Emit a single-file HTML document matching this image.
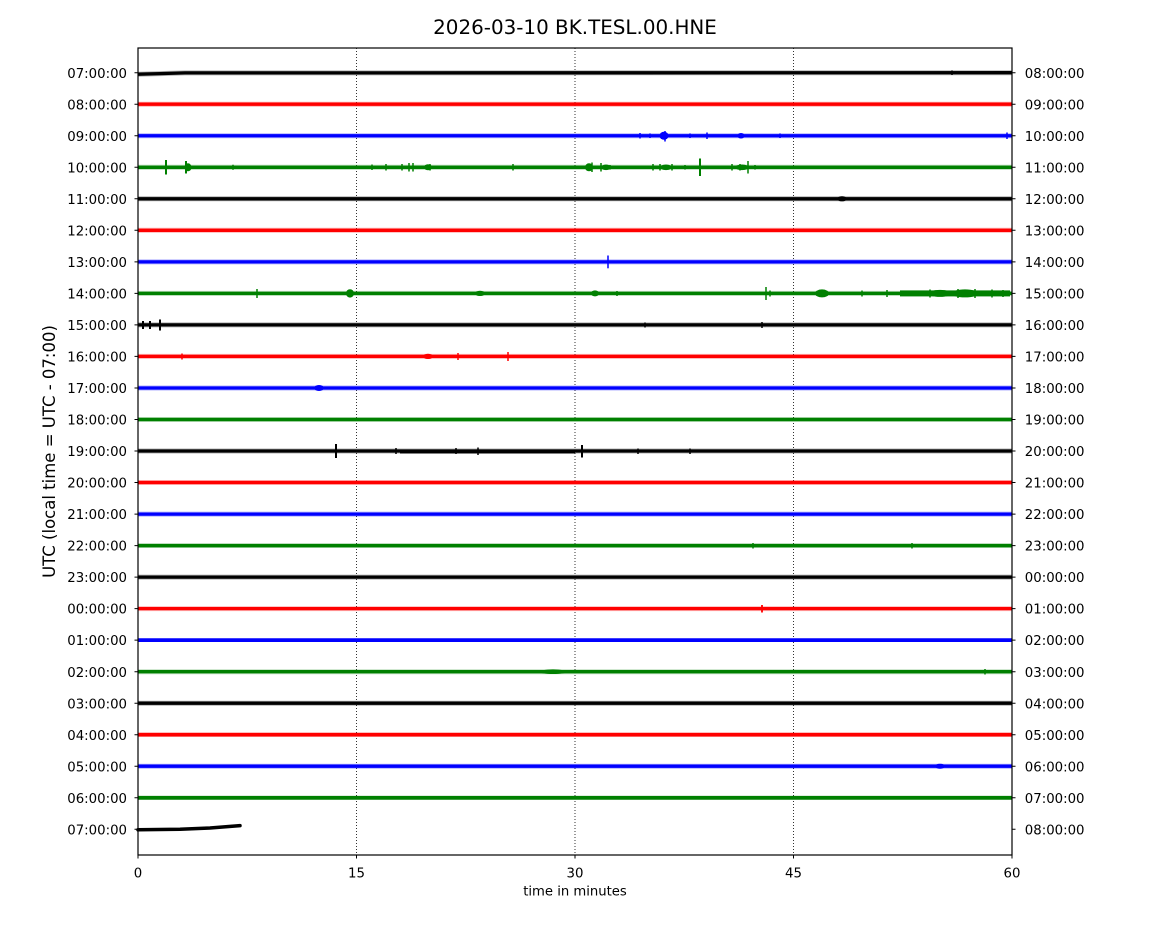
<!DOCTYPE html>
<html>
<head>
<meta charset="utf-8">
<style>
html,body{margin:0;padding:0;background:#fff;}
svg{display:block;}
text{font-family:"DejaVu Sans","Liberation Sans",sans-serif;fill:#000;}
</style>
</head>
<body>
<svg width="1150" height="950" viewBox="0 0 1150 950" xmlns="http://www.w3.org/2000/svg">
<rect width="1150" height="950" fill="#fff"/>
<!-- title -->
<text x="575" y="34" font-size="19.9" text-anchor="middle">2026-03-10 BK.TESL.00.HNE</text>

<!-- grid -->
<g stroke="#000" stroke-width="0.8" stroke-dasharray="1,2">
<line x1="356.5" y1="48" x2="356.5" y2="855"/>
<line x1="575" y1="48" x2="575" y2="855"/>
<line x1="793.5" y1="48" x2="793.5" y2="855"/>
</g>

<!-- traces -->
<g stroke-linecap="butt" fill="none">
<!-- row 0 black -->
<g stroke="#000">
<path d="M138 74.2 L160 73.6 L185 72.9 L1012 72.7" stroke-width="3.3"/>
<path d="M138 74.2 L160 73.6 L185 72.9 L1012 72.7" stroke-width="5" stroke-opacity="0.3"/>
<path d="M952 70.5 V75" stroke-width="1.5"/>
</g>
<!-- row 1 red -->
<g stroke="#ff0000">
<line x1="138" y1="104.2" x2="1012" y2="104.2" stroke-width="3.3"/>
<line x1="138" y1="104.2" x2="1012" y2="104.2" stroke-width="5" stroke-opacity="0.3"/>
</g>
<!-- row 2 blue -->
<g stroke="#0000ff">
<line x1="138" y1="135.75" x2="1012" y2="135.75" stroke-width="3.3"/>
<line x1="138" y1="135.75" x2="1012" y2="135.75" stroke-width="5" stroke-opacity="0.3"/>
<path d="M665 131 V141.5 M640 133 V138.5 M707 132.5 V139 M780 133.5 V138 M1007 132.5 V139 M650 133.5 V138 M690 133.5 V138" stroke-width="1.5"/>
</g>
<g fill="#0000ff">
<ellipse cx="664" cy="135.75" rx="4.5" ry="4"/>
<ellipse cx="741" cy="135.75" rx="3.5" ry="2.8"/>
</g>
<!-- row 3 green -->
<g stroke="#008000">
<line x1="138" y1="167.3" x2="1012" y2="167.3" stroke-width="3.3"/>
<line x1="138" y1="167.3" x2="1012" y2="167.3" stroke-width="5" stroke-opacity="0.3"/>
<path d="M166 160 V174.5" stroke-width="2"/>
<path d="M186 161 V173.5" stroke-width="2"/>
<path d="M700 158.5 V176" stroke-width="2"/>
<path d="M233 164.8 V169.8 M372 164.5 V170 M386 164 V170.5 M402 164 V170.5 M409 163 V171.5 M413 163 V171.5 M430 164 V170.5 M513 164 V170.5 M601 163 V171.5 M610 165 V169.5 M653 164 V170.5 M660 164 V170.5 M672 164 V170.5 M685 165 V169.5 M732 164 V170.5 M740 164 V170.5 M748 161 V173.5 M755 165 V169.5 M592 162.5 V172" stroke-width="1.5"/>
</g>
<g fill="#008000">
<ellipse cx="188" cy="167.3" rx="3.5" ry="4"/>
<ellipse cx="589" cy="167.3" rx="4" ry="4"/>
<ellipse cx="428" cy="167.3" rx="4" ry="3"/>
<ellipse cx="666" cy="167.3" rx="6" ry="2.8"/>
<ellipse cx="742" cy="167.3" rx="7" ry="2.8"/>
<ellipse cx="606" cy="167.3" rx="5" ry="2.8"/>
</g>
<!-- row 4 black -->
<g stroke="#000">
<line x1="138" y1="198.8" x2="1012" y2="198.8" stroke-width="3.3"/>
<line x1="138" y1="198.8" x2="1012" y2="198.8" stroke-width="5" stroke-opacity="0.3"/>
</g>
<ellipse cx="842" cy="198.8" rx="5" ry="2.6" fill="#000"/>
<!-- row 5 red -->
<g stroke="#ff0000">
<line x1="138" y1="230.3" x2="1012" y2="230.3" stroke-width="3.3"/>
<line x1="138" y1="230.3" x2="1012" y2="230.3" stroke-width="5" stroke-opacity="0.3"/>
</g>
<!-- row 6 blue -->
<g stroke="#0000ff">
<line x1="138" y1="261.9" x2="1012" y2="261.9" stroke-width="3.3"/>
<line x1="138" y1="261.9" x2="1012" y2="261.9" stroke-width="5" stroke-opacity="0.3"/>
<path d="M608 255.5 V268.3" stroke-width="1.5"/>
</g>
<!-- row 7 green -->
<g stroke="#008000">
<line x1="138" y1="293.4" x2="1012" y2="293.4" stroke-width="3.3"/>
<line x1="138" y1="293.4" x2="1012" y2="293.4" stroke-width="5" stroke-opacity="0.3"/>
<path d="M257 289 V298 M617 291 V296 M766 287 V300 M862 290.5 V296.5 M887 290 V297 M930 289.5 V297.5 M958 289 V298 M975 289 V298 M992 289.5 V297.5 M1003 290 V297 M770 290.5 V296.5" stroke-width="1.5"/>
</g>
<g fill="#008000">
<ellipse cx="350" cy="293.4" rx="4" ry="4.2"/>
<ellipse cx="480" cy="293.4" rx="5" ry="2.6"/>
<ellipse cx="595" cy="293.4" rx="4" ry="3"/>
<ellipse cx="822" cy="293.4" rx="7" ry="4"/>
<rect x="900" y="290.4" width="110" height="6"/>
<ellipse cx="940" cy="293.4" rx="12" ry="3.5"/>
<ellipse cx="965" cy="293.4" rx="14" ry="4"/>
</g>
<!-- row 8 black -->
<g stroke="#000">
<line x1="138" y1="324.9" x2="1012" y2="324.9" stroke-width="3.3"/>
<line x1="138" y1="324.9" x2="1012" y2="324.9" stroke-width="5" stroke-opacity="0.3"/>
<path d="M143 321 V329 M150 321 V329 M160 319.5 V330.5" stroke-width="2"/>
<path d="M645 322.5 V327.5 M762 322 V328" stroke-width="1.5"/>
</g>
<!-- row 9 red -->
<g stroke="#ff0000">
<line x1="138" y1="356.4" x2="1012" y2="356.4" stroke-width="3.3"/>
<line x1="138" y1="356.4" x2="1012" y2="356.4" stroke-width="5" stroke-opacity="0.3"/>
<path d="M182 353.5 V359.5 M458 353 V360 M508 352 V361" stroke-width="1.5"/>
</g>
<ellipse cx="428" cy="356.4" rx="5" ry="2.6" fill="#ff0000"/>
<!-- row 10 blue -->
<g stroke="#0000ff">
<line x1="138" y1="388" x2="1012" y2="388" stroke-width="3.3"/>
<line x1="138" y1="388" x2="1012" y2="388" stroke-width="5" stroke-opacity="0.3"/>
</g>
<ellipse cx="319" cy="388" rx="5" ry="3" fill="#0000ff"/>
<!-- row 11 green -->
<g stroke="#008000">
<line x1="138" y1="419.5" x2="1012" y2="419.5" stroke-width="3.3"/>
<line x1="138" y1="419.5" x2="1012" y2="419.5" stroke-width="5" stroke-opacity="0.3"/>
</g>
<!-- row 12 black -->
<g stroke="#000">
<line x1="138" y1="451" x2="1012" y2="451" stroke-width="3.3"/>
<line x1="138" y1="451" x2="1012" y2="451" stroke-width="5" stroke-opacity="0.3"/>
<line x1="400" y1="451.5" x2="575" y2="451.5" stroke-width="4"/>
<path d="M336 444 V458 M582 445 V457.5" stroke-width="2"/>
<path d="M396 448 V454 M456 448 V454 M478 447.5 V455 M638 448.5 V454 M690 448.5 V454" stroke-width="1.5"/>
</g>
<!-- row 13 red -->
<g stroke="#ff0000">
<line x1="138" y1="482.5" x2="1012" y2="482.5" stroke-width="3.3"/>
<line x1="138" y1="482.5" x2="1012" y2="482.5" stroke-width="5" stroke-opacity="0.3"/>
</g>
<!-- row 14 blue -->
<g stroke="#0000ff">
<line x1="138" y1="514.1" x2="1012" y2="514.1" stroke-width="3.3"/>
<line x1="138" y1="514.1" x2="1012" y2="514.1" stroke-width="5" stroke-opacity="0.3"/>
</g>
<!-- row 15 green -->
<g stroke="#008000">
<line x1="138" y1="545.6" x2="1012" y2="545.6" stroke-width="3.8"/>
<path d="M753 543 V548.5 M912 543 V548.5" stroke-width="1.5"/>
</g>
<!-- row 16 black -->
<g stroke="#000">
<line x1="138" y1="577.1" x2="1012" y2="577.1" stroke-width="3.3"/>
<line x1="138" y1="577.1" x2="1012" y2="577.1" stroke-width="5" stroke-opacity="0.3"/>
</g>
<!-- row 17 red -->
<g stroke="#ff0000">
<line x1="138" y1="608.6" x2="1012" y2="608.6" stroke-width="3.3"/>
<line x1="138" y1="608.6" x2="1012" y2="608.6" stroke-width="5" stroke-opacity="0.25"/>
<path d="M762 605 V612.5" stroke-width="1.8"/>
</g>
<!-- row 18 blue -->
<g stroke="#0000ff">
<line x1="138" y1="640.1" x2="1012" y2="640.1" stroke-width="3.8"/>
</g>
<!-- row 19 green -->
<g stroke="#008000">
<line x1="138" y1="671.7" x2="1012" y2="671.7" stroke-width="3.3"/>
<line x1="138" y1="671.7" x2="1012" y2="671.7" stroke-width="5" stroke-opacity="0.25"/>
<path d="M985 669 V674.5" stroke-width="1.5"/>
</g>
<ellipse cx="553" cy="671.7" rx="14" ry="2.3" fill="#008000"/>
<!-- row 20 black -->
<g stroke="#000">
<line x1="138" y1="703.2" x2="1012" y2="703.2" stroke-width="3.3"/>
<line x1="138" y1="703.2" x2="1012" y2="703.2" stroke-width="5" stroke-opacity="0.3"/>
</g>
<!-- row 21 red -->
<g stroke="#ff0000">
<line x1="138" y1="734.7" x2="1012" y2="734.7" stroke-width="3.8"/>
</g>
<!-- row 22 blue -->
<g stroke="#0000ff">
<line x1="138" y1="766.2" x2="1012" y2="766.2" stroke-width="3.3"/>
<line x1="138" y1="766.2" x2="1012" y2="766.2" stroke-width="5" stroke-opacity="0.3"/>
</g>
<ellipse cx="940" cy="766.2" rx="5" ry="2.5" fill="#0000ff"/>
<!-- row 23 green -->
<g stroke="#008000">
<line x1="138" y1="797.8" x2="1012" y2="797.8" stroke-width="3.8"/>
</g>
<!-- row 24 black -->
<path d="M138 829.8 L180 829.2 L210 828 L240 825.6" stroke="#000" stroke-width="3.5" stroke-linecap="round"/>
</g>

<!-- axes box -->
<rect x="138" y="48" width="874" height="807" fill="none" stroke="#000" stroke-width="1.2"/>

<!-- y ticks -->
<g stroke="#000" stroke-width="1">
<path d="M134.5 72.7H138M134.5 104.2H138M134.5 135.75H138M134.5 167.3H138M134.5 198.8H138M134.5 230.3H138M134.5 261.9H138M134.5 293.4H138M134.5 324.9H138M134.5 356.4H138M134.5 388H138M134.5 419.5H138M134.5 451H138M134.5 482.5H138M134.5 514.1H138M134.5 545.6H138M134.5 577.1H138M134.5 608.6H138M134.5 640.1H138M134.5 671.7H138M134.5 703.2H138M134.5 734.7H138M134.5 766.2H138M134.5 797.8H138M134.5 829.3H138"/>
<path d="M1012 72.7H1015.5M1012 104.2H1015.5M1012 135.75H1015.5M1012 167.3H1015.5M1012 198.8H1015.5M1012 230.3H1015.5M1012 261.9H1015.5M1012 293.4H1015.5M1012 324.9H1015.5M1012 356.4H1015.5M1012 388H1015.5M1012 419.5H1015.5M1012 451H1015.5M1012 482.5H1015.5M1012 514.1H1015.5M1012 545.6H1015.5M1012 577.1H1015.5M1012 608.6H1015.5M1012 640.1H1015.5M1012 671.7H1015.5M1012 703.2H1015.5M1012 734.7H1015.5M1012 766.2H1015.5M1012 797.8H1015.5M1012 829.3H1015.5"/>
<path d="M138 855V858.5M356.5 855V858.5M575 855V858.5M793.5 855V858.5M1012 855V858.5"/>
</g>

<!-- left labels -->
<g font-size="13.3" text-anchor="end">
<text x="127" y="77.8">07:00:00</text>
<text x="127" y="109.3">08:00:00</text>
<text x="127" y="140.9">09:00:00</text>
<text x="127" y="172.4">10:00:00</text>
<text x="127" y="203.9">11:00:00</text>
<text x="127" y="235.4">12:00:00</text>
<text x="127" y="267">13:00:00</text>
<text x="127" y="298.5">14:00:00</text>
<text x="127" y="330">15:00:00</text>
<text x="127" y="361.5">16:00:00</text>
<text x="127" y="393.1">17:00:00</text>
<text x="127" y="424.6">18:00:00</text>
<text x="127" y="456.1">19:00:00</text>
<text x="127" y="487.6">20:00:00</text>
<text x="127" y="519.2">21:00:00</text>
<text x="127" y="550.7">22:00:00</text>
<text x="127" y="582.2">23:00:00</text>
<text x="127" y="613.7">00:00:00</text>
<text x="127" y="645.2">01:00:00</text>
<text x="127" y="676.8">02:00:00</text>
<text x="127" y="708.3">03:00:00</text>
<text x="127" y="739.8">04:00:00</text>
<text x="127" y="771.3">05:00:00</text>
<text x="127" y="802.9">06:00:00</text>
<text x="127" y="834.4">07:00:00</text>
</g>
<!-- right labels -->
<g font-size="13.3" text-anchor="start">
<text x="1024.8" y="77.8">08:00:00</text>
<text x="1024.8" y="109.3">09:00:00</text>
<text x="1024.8" y="140.9">10:00:00</text>
<text x="1024.8" y="172.4">11:00:00</text>
<text x="1024.8" y="203.9">12:00:00</text>
<text x="1024.8" y="235.4">13:00:00</text>
<text x="1024.8" y="267">14:00:00</text>
<text x="1024.8" y="298.5">15:00:00</text>
<text x="1024.8" y="330">16:00:00</text>
<text x="1024.8" y="361.5">17:00:00</text>
<text x="1024.8" y="393.1">18:00:00</text>
<text x="1024.8" y="424.6">19:00:00</text>
<text x="1024.8" y="456.1">20:00:00</text>
<text x="1024.8" y="487.6">21:00:00</text>
<text x="1024.8" y="519.2">22:00:00</text>
<text x="1024.8" y="550.7">23:00:00</text>
<text x="1024.8" y="582.2">00:00:00</text>
<text x="1024.8" y="613.7">01:00:00</text>
<text x="1024.8" y="645.2">02:00:00</text>
<text x="1024.8" y="676.8">03:00:00</text>
<text x="1024.8" y="708.3">04:00:00</text>
<text x="1024.8" y="739.8">05:00:00</text>
<text x="1024.8" y="771.3">06:00:00</text>
<text x="1024.8" y="802.9">07:00:00</text>
<text x="1024.8" y="834.4">08:00:00</text>
</g>

<!-- x tick labels -->
<g font-size="13.3" text-anchor="middle">
<text x="138" y="877.5">0</text>
<text x="356.5" y="877.5">15</text>
<text x="575" y="877.5">30</text>
<text x="793.5" y="877.5">45</text>
<text x="1012" y="877.5">60</text>
</g>
<text x="575" y="895.5" font-size="13.2" text-anchor="middle">time in minutes</text>

<!-- y label -->
<text transform="translate(55,451.5) rotate(-90)" font-size="16.5" text-anchor="middle">UTC (local time = UTC - 07:00)</text>
</svg>
</body>
</html>
